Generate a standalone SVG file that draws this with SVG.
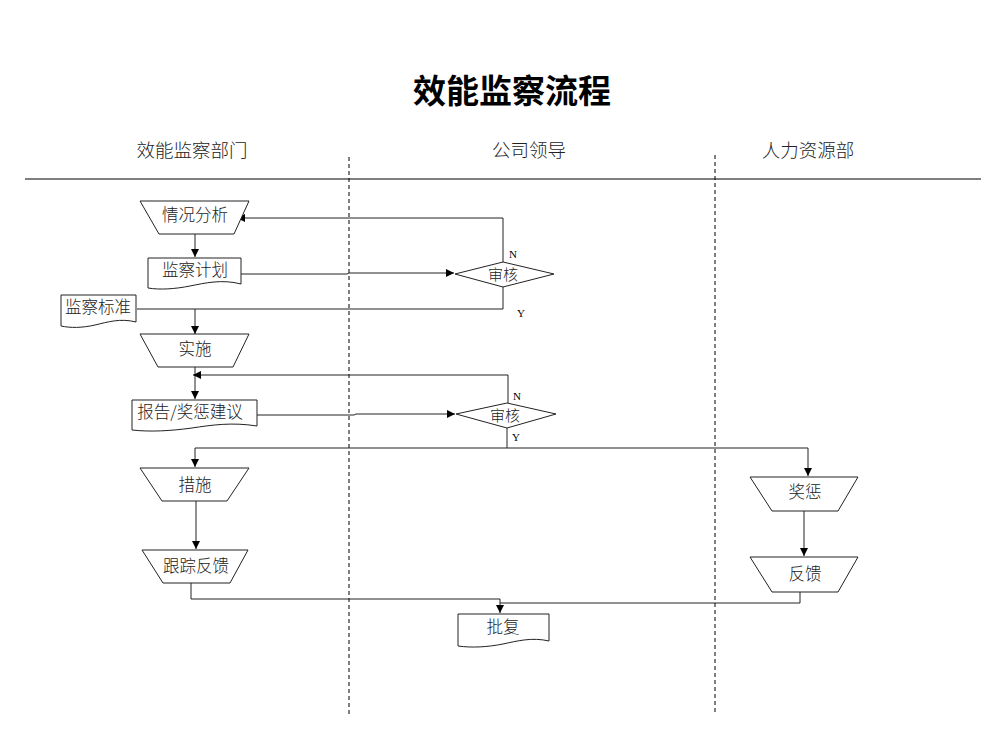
<svg xmlns="http://www.w3.org/2000/svg" width="999" height="750" viewBox="0 0 999 750">
<defs>
<marker id="ah" viewBox="0 0 10 10" refX="10" refY="5" markerWidth="8" markerHeight="8" markerUnits="userSpaceOnUse" orient="auto"><path d="M0,0 L10,5 L0,10 z" fill="#000"/></marker>
<style>
.shape{fill:#fff;stroke:#222;stroke-width:1}
.lbl{font-family:"Noto Sans CJK SC","Liberation Serif",serif;font-size:16.5px;fill:#222;text-anchor:middle;dominant-baseline:central;font-weight:300}
.dlbl{font-size:15px}
.hdr{font-family:"Noto Sans CJK SC","Liberation Serif",serif;font-size:18.5px;fill:#222;text-anchor:middle;dominant-baseline:central;font-weight:300}
.yn{font-family:"Liberation Serif",serif;font-size:11px;fill:#000;text-anchor:middle;dominant-baseline:central}
.con{fill:none;stroke:#222;stroke-width:1}
.arr{marker-end:url(#ah)}
.lane{stroke:#000;stroke-width:1;stroke-dasharray:4,3}
</style>
</defs>
<rect width="999" height="750" fill="#fff"/>
<text x="512" y="89" font-family="'Noto Sans CJK SC','Liberation Sans',sans-serif" font-size="33" font-weight="bold" text-anchor="middle" dominant-baseline="central" fill="#000">效能监察流程</text>
<g id="lanes">
<text class="hdr" x="192" y="149">效能监察部门</text>
<text class="hdr" x="529" y="149">公司领导</text>
<text class="hdr" x="808" y="149">人力资源部</text>
<line x1="25" y1="179" x2="981" y2="179" stroke="#000" stroke-width="1.2"/>
<line class="lane" x1="349" y1="157" x2="349" y2="715"/>
<line class="lane" x1="715" y1="155" x2="715" y2="712"/>
</g>
<g id="connectors">
<line class="con arr" x1="195" y1="234" x2="195" y2="257"/>
<polyline class="con arr" points="241,274 347,274 349,273 454,273"/>
<polyline class="con arr" points="503,262 503,218 237,218"/>
<polyline class="con" points="503,287 503,309 137,309"/>
<line class="con arr" x1="195" y1="309" x2="195" y2="334"/>
<line class="con arr" x1="195" y1="367" x2="195" y2="399"/>
<polyline class="con arr" points="508,403 508,375 193,375"/>
<polyline class="con arr" points="257,415 354,415 356,414 455,414"/>
<polyline class="con arr" points="507,428 507,448 195,448 195,467"/>
<polyline class="con arr" points="507,448 808,448 808,476"/>
<line class="con arr" x1="196" y1="501" x2="196" y2="549"/>
<line class="con arr" x1="804" y1="511" x2="804" y2="556"/>
<polyline class="con arr" points="191,583 191,599 500,599 500,613"/>
<polyline class="con" points="800,592 800,603 500,603"/>
<text class="yn" x="513" y="254">N</text>
<text class="yn" x="521" y="313">Y</text>
<text class="yn" x="517" y="396">N</text>
<text class="yn" x="516" y="437">Y</text>
</g>
<g id="n1"><path class="shape" d="M140,201 H249 L234,234 H159 Z"/><text class="lbl" x="195" y="214">情况分析</text></g>
<g id="n2"><path class="shape" d="M148,258 H241 V284 C222,279 205,283 190,286 C175,289 160,290 148,288 Z"/><text class="lbl" x="195" y="269">监察计划</text></g>
<g id="n3"><path class="shape" d="M455,274 L503,262 L554,274 L503,287 Z"/><text class="lbl dlbl" x="503" y="273">审核</text></g>
<g id="n4"><path class="shape" d="M61,295 H136 V322 C120,318 108,322 95,325 C82,328 70,328 61,326 Z"/><text class="lbl" x="98" y="306">监察标准</text></g>
<g id="n5"><path class="shape" d="M140,334 H249 L233,367 H158 Z"/><text class="lbl" x="195" y="348">实施</text></g>
<g id="n6"><path class="shape" d="M132,400 H257 V426 C232,422 212,425 192,428 C170,431 150,432 132,430 Z"/><text class="lbl" x="190" y="411">报告/奖惩建议</text></g>
<g id="n7"><path class="shape" d="M456,414 L507,403 L556,414 L507,428 Z"/><text class="lbl dlbl" x="505" y="414">审核</text></g>
<g id="n8"><path class="shape" d="M140,468 H249 L227,501 H162 Z"/><text class="lbl" x="195" y="484">措施</text></g>
<g id="n9"><path class="shape" d="M142,550 H248 L230,583 H163 Z"/><text class="lbl" x="196" y="565">跟踪反馈</text></g>
<g id="n10"><path class="shape" d="M750,477 H858 L838,511 H772 Z"/><text class="lbl" x="805" y="491">奖惩</text></g>
<g id="n11"><path class="shape" d="M750,557 H858 L838,592 H772 Z"/><text class="lbl" x="805" y="573">反馈</text></g>
<g id="n12"><path class="shape" d="M458,614 H549 V641 C532,637 517,641 503,644 C488,647 472,648 458,646 Z"/><text class="lbl" x="503" y="626">批复</text></g>
</svg>
